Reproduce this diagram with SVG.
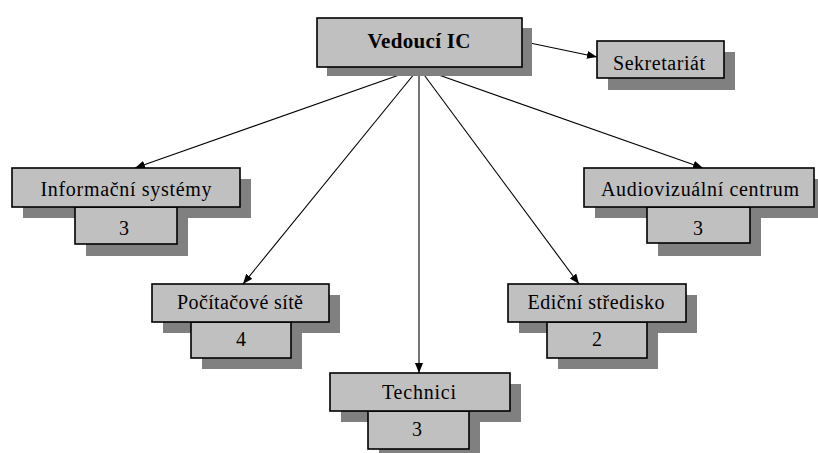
<svg xmlns="http://www.w3.org/2000/svg" width="818" height="453" viewBox="0 0 818 453">
<defs>
<marker id="ah" viewBox="0 0 10 8" refX="10" refY="4" markerWidth="10" markerHeight="8" markerUnits="userSpaceOnUse" orient="auto">
<path d="M0,0 L10,4 L0,8 z" fill="#000"/>
</marker>
<style>
.sh{fill:#808080;stroke:none}
.bx{fill:#c0c0c0;stroke:#000;stroke-width:1.6}
.t{font-family:"Liberation Serif","Times New Roman",serif;font-size:20px;fill:#000;text-anchor:middle}
.b{font-weight:bold;font-size:21px}
.ln{stroke:#000;stroke-width:1.1;fill:none;marker-end:url(#ah)}
</style>
</defs>
<rect width="818" height="453" fill="#fff"/>
<g id="connectors">
<line class="ln" x1="419" y1="68" x2="135" y2="168"/>
<line class="ln" x1="419" y1="68" x2="243" y2="284"/>
<line class="ln" x1="419" y1="68" x2="419" y2="373"/>
<line class="ln" x1="419" y1="68" x2="579" y2="284"/>
<line class="ln" x1="419" y1="68" x2="703" y2="168"/>
<polyline class="ln" points="522,43 530,43 597,57"/>
</g>
<g id="vedouci">
<rect class="sh" x="327" y="28" width="205" height="48"/>
<rect class="bx" x="317" y="18" width="205" height="49"/>
<text class="t b" x="419" y="48" textLength="103">Vedoucí IC</text>
</g>
<g id="sekretariat">
<rect class="sh" x="608" y="52" width="127" height="38"/>
<rect class="bx" x="597" y="41" width="127" height="37"/>
<text class="t" x="659" y="70" textLength="92">Sekretariát</text>
</g>
<g id="informacni">
<rect class="sh" x="23" y="179" width="228" height="39"/>
<rect class="sh" x="86" y="218" width="102" height="38"/>
<rect class="bx" x="75" y="207" width="102" height="37"/>
<rect class="bx" x="12" y="168" width="228" height="39"/>
<text class="t" x="126" y="196" textLength="171">Informační systémy</text>
<text class="t" x="124" y="235">3</text>
</g>
<g id="audio">
<rect class="sh" x="595" y="179" width="223" height="39"/>
<rect class="sh" x="658" y="218" width="103" height="38"/>
<rect class="bx" x="647" y="207" width="103" height="36"/>
<rect class="bx" x="584" y="168" width="230" height="39"/>
<text class="t" x="700" y="196" textLength="198">Audiovizuální centrum</text>
<text class="t" x="698" y="235">3</text>
</g>
<g id="pocitacove">
<rect class="sh" x="163" y="295" width="177" height="38"/>
<rect class="sh" x="202" y="333" width="100" height="36"/>
<rect class="bx" x="191" y="322" width="100" height="36"/>
<rect class="bx" x="152" y="284" width="177" height="38"/>
<text class="t" x="240" y="309" textLength="126">Počítačové sítě</text>
<text class="t" x="241" y="346">4</text>
</g>
<g id="edicni">
<rect class="sh" x="519" y="295" width="178" height="38"/>
<rect class="sh" x="558" y="333" width="100" height="36"/>
<rect class="bx" x="547" y="322" width="100" height="36"/>
<rect class="bx" x="508" y="284" width="178" height="38"/>
<text class="t" x="596" y="309" textLength="137">Ediční středisko</text>
<text class="t" x="597" y="346">2</text>
</g>
<g id="technici">
<rect class="sh" x="341" y="384" width="180" height="38"/>
<rect class="sh" x="379" y="422" width="101" height="31"/>
<rect class="bx" x="368" y="411" width="101" height="38"/>
<rect class="bx" x="330" y="373" width="180" height="38"/>
<text class="t" x="419" y="399" textLength="74">Technici</text>
<text class="t" x="417" y="436">3</text>
</g>
</svg>
